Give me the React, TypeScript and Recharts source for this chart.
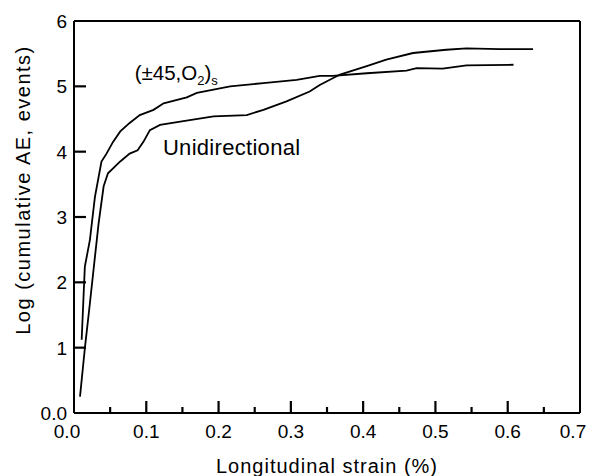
import React from 'react';
import { LineChart, Line, XAxis, YAxis, ReferenceDot, ReferenceLine } from 'recharts';

// (±45,O2)s laminate: strain (%) vs log cumulative AE
const laminateStrain = [0.0106, 0.015, 0.022, 0.029, 0.038, 0.045, 0.054, 0.064, 0.077, 0.091, 0.11, 0.124, 0.156, 0.17, 0.216, 0.262, 0.308, 0.34, 0.358, 0.405, 0.46, 0.474, 0.51, 0.543, 0.608];
const laminateLogAE = [1.12, 2.24, 2.65, 3.31, 3.85, 3.97, 4.15, 4.31, 4.44, 4.56, 4.64, 4.74, 4.83, 4.9, 5.0, 5.05, 5.1, 5.16, 5.16, 5.2, 5.24, 5.28, 5.27, 5.32, 5.33];

// unidirectional
const uniStrain = [0.0083, 0.015, 0.022, 0.027, 0.034, 0.041, 0.047, 0.064, 0.077, 0.088, 0.096, 0.105, 0.119, 0.147, 0.193, 0.239, 0.262, 0.294, 0.326, 0.34, 0.368, 0.405, 0.432, 0.469, 0.515, 0.543, 0.589, 0.635];
const uniLogAE = [0.25, 0.99, 1.68, 2.19, 2.9, 3.47, 3.67, 3.85, 3.97, 4.02, 4.15, 4.33, 4.41, 4.46, 4.54, 4.56, 4.64, 4.77, 4.92, 5.02, 5.18, 5.31, 5.41, 5.51, 5.56, 5.58, 5.57, 5.57];

const xTicks = [0, 0.1, 0.2, 0.3, 0.4, 0.5, 0.6, 0.7];
const xMinorTicks = [0.05, 0.15, 0.25, 0.35, 0.45, 0.55, 0.65];
const yTicks = [0, 1, 2, 3, 4, 5, 6];

const laminateData = laminateStrain.map((x, i) => ({ x, y: laminateLogAE[i] }));
const uniData = uniStrain.map((x, i) => ({ x, y: uniLogAE[i] }));

const font = 'Arial, "Liberation Sans", Helvetica, sans-serif';
const ink = '#000';

// inward tick lengths, in data units (about 12px / 6px)
const yTickLen = 0.0166;
const xMajorLen = 0.184;
const xMinorLen = 0.092;

const renderXTick = (props: any) => {
  const { x, y, payload } = props;
  const v = payload.value;
  const edge = v === 0 || v === 0.7;
  return (
    <text x={x + (edge ? -7 : 0)} y={y + 25} textAnchor="middle" fontSize={19} fontFamily={font} fill={ink}>
      {v.toFixed(1)}
    </text>
  );
};

const renderYTick = (props: any) => {
  const { x, y, payload } = props;
  const v = payload.value;
  return (
    <text x={x - 7} y={y} dy="0.36em" textAnchor="end" fontSize={19} fontFamily={font} fill={ink}>
      {v === 0 ? '0.0' : v}
    </text>
  );
};

const YLabel = (props: any) => {
  const vb = props.viewBox;
  const cx = vb.x - 4;
  const cy = vb.y + vb.height / 2 - 27;
  return (
    <text x={cx} y={cy} transform={`rotate(-90, ${cx}, ${cy})`} textAnchor="middle" fontSize={20} letterSpacing={1.5} fontFamily={font} fill={ink}>
      Log (cumulative AE, events)
    </text>
  );
};

const XLabel = (props: any) => {
  const vb = props.viewBox;
  return (
    <text x={vb.x + vb.width / 2} y={vb.y + 60} textAnchor="middle" fontSize={20} letterSpacing={1} fontFamily={font} fill={ink}>
      Longitudinal strain (%)
    </text>
  );
};

const LaminateText = (props: any) => {
  const vb = props.viewBox;
  return (
    <text x={vb.x} y={vb.y} fontSize={20.5} fontFamily={font} fill={ink}>
      (±45,O<tspan fontSize={13} dy={5}>2</tspan>
      <tspan dy={-5}>)</tspan>
      <tspan fontSize={13} dy={5}>s</tspan>
    </text>
  );
};

const UniText = (props: any) => {
  const vb = props.viewBox;
  return (
    <text x={vb.x} y={vb.y} fontSize={22} letterSpacing={0.3} fontFamily={font} fill={ink}>
      Unidirectional
    </text>
  );
};

export default function App() {
  return (
    <div style={{ position: 'absolute', left: 0, top: 0, background: '#fff' }}>
      <LineChart width={599} height={476} margin={{ top: 20, right: 18, bottom: 23, left: 34 }}>
        <XAxis
          dataKey="x"
          type="number"
          domain={[0, 0.7]}
          ticks={xTicks}
          interval={0}
          height={40}
          tickSize={0}
          tickMargin={0}
          tickLine={false}
          tick={renderXTick}
          axisLine={{ stroke: ink, strokeWidth: 2 }}
          label={<XLabel />}
        />
        <XAxis xAxisId="top" orientation="top" type="number" domain={[0, 0.7]} height={1} tick={false} tickLine={false} axisLine={{ stroke: ink, strokeWidth: 2 }} />
        <YAxis
          type="number"
          domain={[0, 6]}
          ticks={yTicks}
          interval={0}
          width={40}
          tickSize={0}
          tickMargin={0}
          tickLine={false}
          tick={renderYTick}
          axisLine={{ stroke: ink, strokeWidth: 2 }}
          label={<YLabel />}
        />
        <YAxis yAxisId="right" orientation="right" type="number" domain={[0, 6]} width={1} tick={false} tickLine={false} axisLine={{ stroke: ink, strokeWidth: 2 }} />
        {yTicks.slice(1, -1).map((v) => (
          <ReferenceLine key={`y${v}`} segment={[{ x: 0, y: v }, { x: yTickLen, y: v }]} stroke={ink} strokeWidth={2.2} ifOverflow="visible" />
        ))}
        {xTicks.slice(1, -1).map((v) => (
          <ReferenceLine key={`x${v}`} segment={[{ x: v, y: 0 }, { x: v, y: xMajorLen }]} stroke={ink} strokeWidth={2.2} ifOverflow="visible" />
        ))}
        {xMinorTicks.map((v) => (
          <ReferenceLine key={`m${v}`} segment={[{ x: v, y: 0 }, { x: v, y: xMinorLen }]} stroke={ink} strokeWidth={2.2} ifOverflow="visible" />
        ))}
        <Line data={laminateData} dataKey="y" type="linear" stroke={ink} strokeWidth={1.8} dot={false} isAnimationActive={false} />
        <Line data={uniData} dataKey="y" type="linear" stroke={ink} strokeWidth={1.8} dot={false} isAnimationActive={false} />
        <ReferenceDot x={0.084} y={5.1} r={0} stroke="none" fill="none" label={<LaminateText />} />
        <ReferenceDot x={0.123} y={3.95} r={0} stroke="none" fill="none" label={<UniText />} />
      </LineChart>
    </div>
  );
}
